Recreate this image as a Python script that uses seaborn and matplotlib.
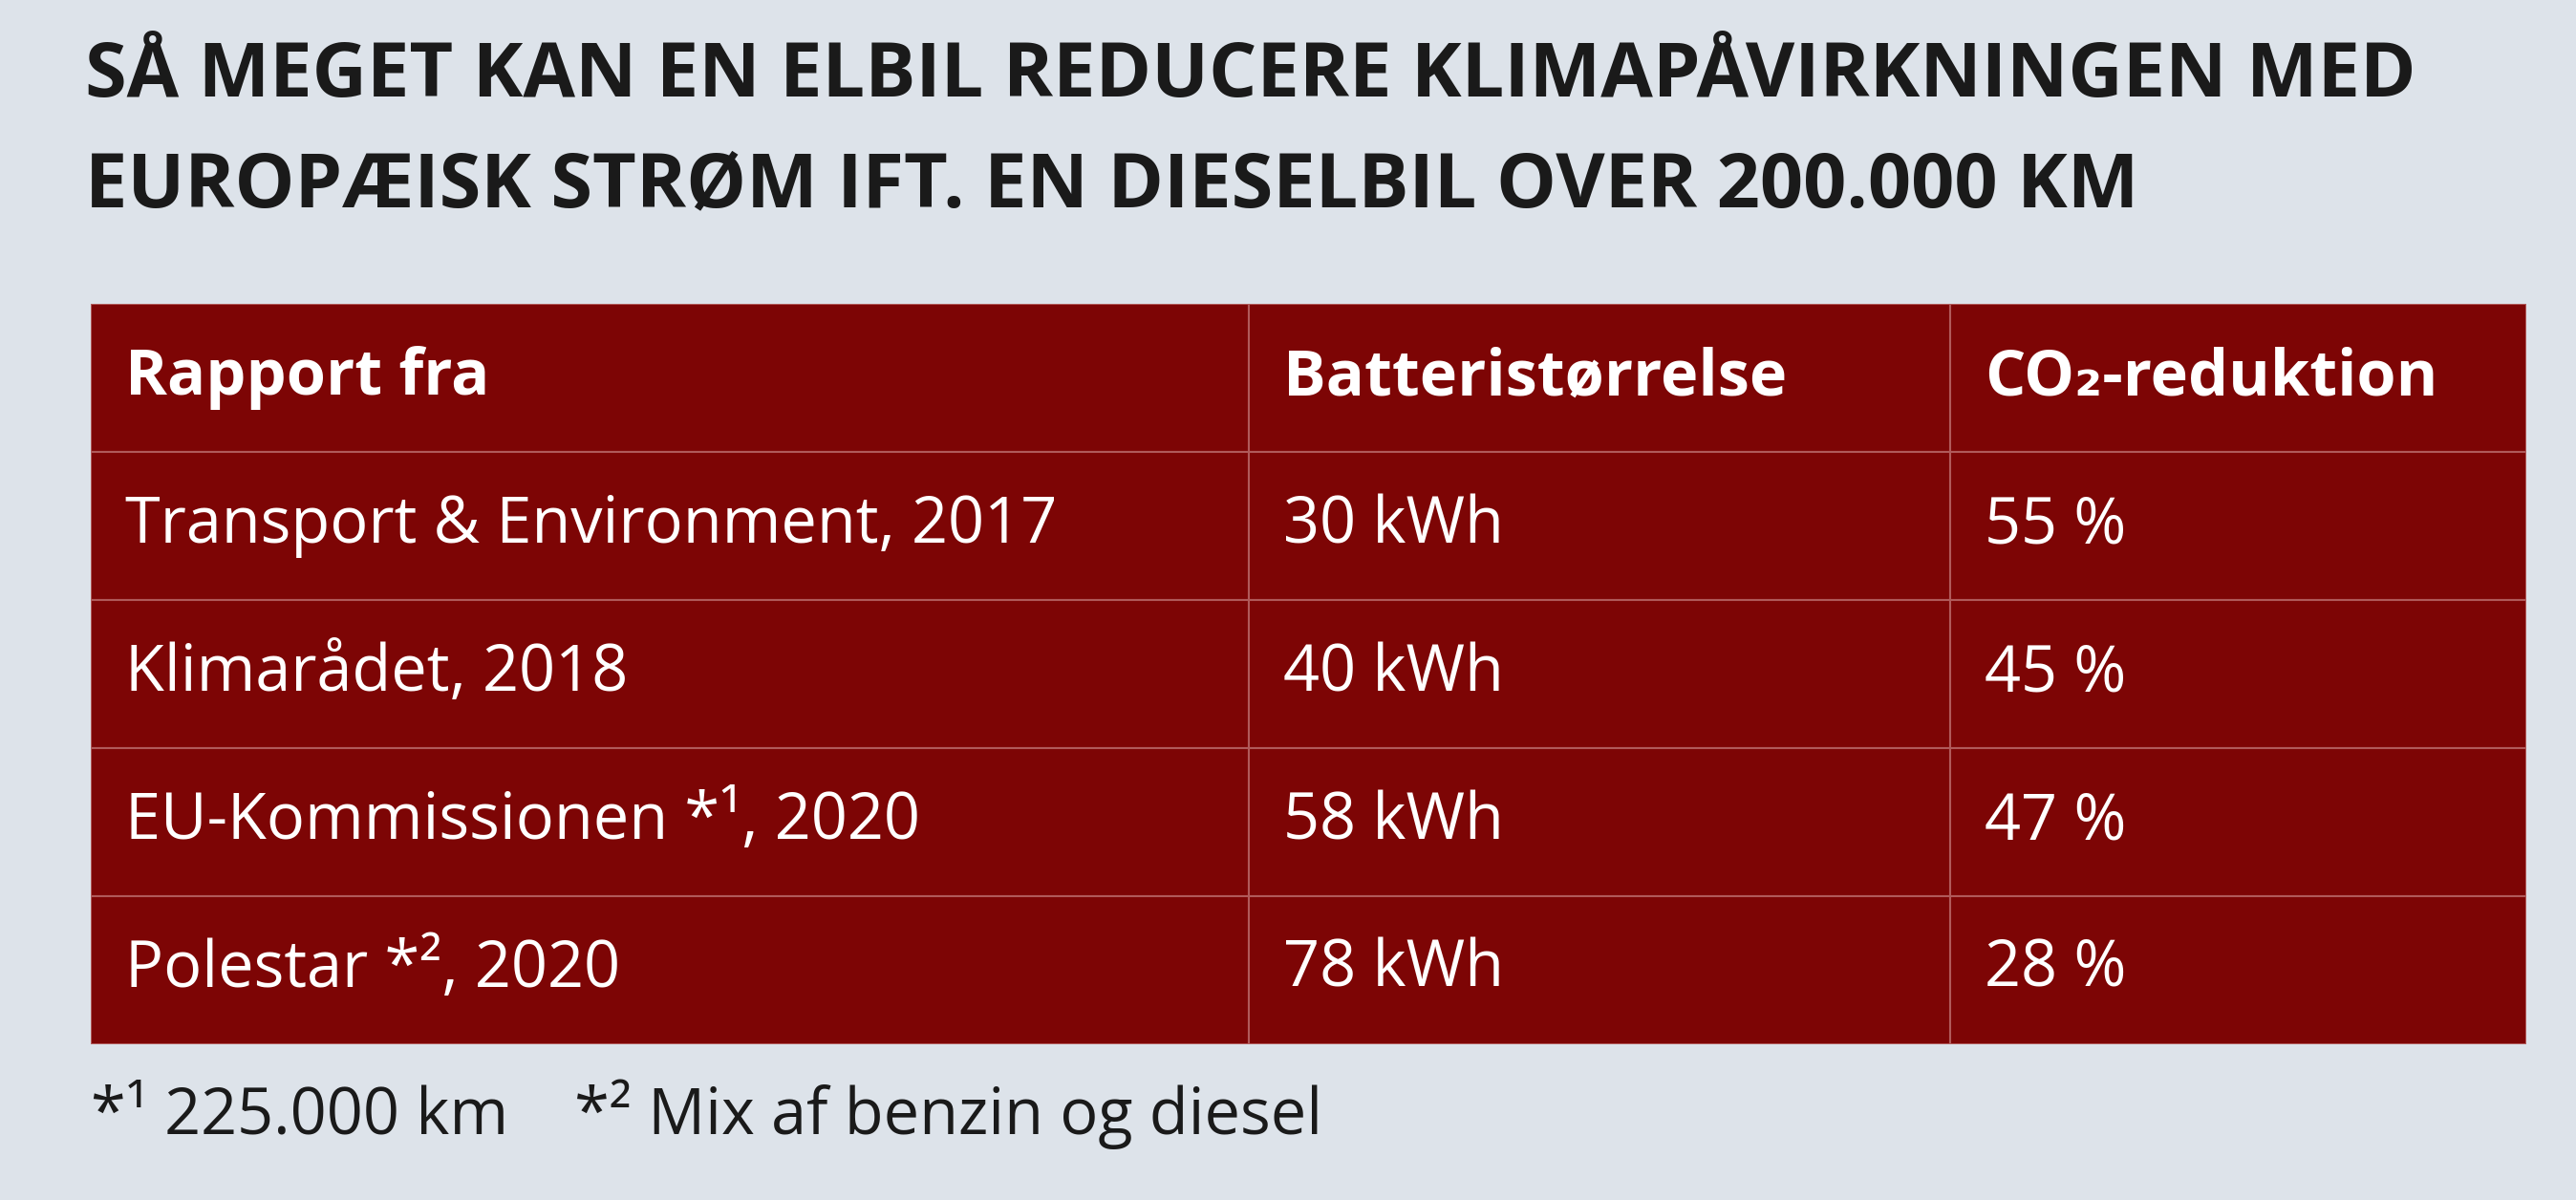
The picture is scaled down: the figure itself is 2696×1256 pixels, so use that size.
import matplotlib
matplotlib.use("Agg")
import matplotlib.pyplot as plt
import seaborn as sns

BG = "#dde3ea"
RED = "#7d0505"
LINE = "#b05a5a"
FONT = ["Open Sans", "DejaVu Sans"]

title_lines = ["SÅ MEGET KAN EN ELBIL REDUCERE KLIMAPÅVIRKNINGEN MED",
               "EUROPÆISK STRØM IFT. EN DIESELBIL OVER 200.000 KM"]
headers = ["Rapport fra", "Batteristørrelse", "CO₂-reduktion"]
reports = ["Transport & Environment, 2017", "Klimarådet, 2018",
           "EU-Kommissionen *¹, 2020", "Polestar *², 2020"]
battery = ["30 kWh", "40 kWh", "58 kWh", "78 kWh"]
reduction = ["55 %", "45 %", "47 %", "28 %"]
footnote = "*¹ 225.000 km    *² Mix af benzin og diesel"

# column edges in reference pixel units
col_edges = [55, 760, 1187, 1538]

sns.set_theme(style="white")
plt.rcParams["font.family"] = FONT

W, H = 1568, 730
fig = plt.figure(figsize=(26.96, 12.56), dpi=100)
fig.patch.set_facecolor(BG)

for i, line in enumerate(title_lines):
    fig.text(52 / W, 1 - (47 + i * 67) / H, line, fontsize=57, fontweight="bold",
             color="#1a1a1a", va="center", ha="left")

ax = fig.add_axes([55 / W, 1 - 635 / H, (1538 - 55) / W, (635 - 185) / H])
n_rows = len(reports) + 1
cells = [[headers[c]] + [reports, battery, reduction][c] for c in range(3)]
for c in range(3):
    left, right = col_edges[c], col_edges[c + 1]
    ax.barh(range(n_rows), [right - left] * n_rows, left=left, height=1.0,
            color=RED, edgecolor=LINE, linewidth=1.5)
    for r, txt in enumerate(cells[c]):
        ax.text(left + 21, r, txt, color="white", fontsize=48,
                fontweight="bold" if r == 0 else "normal", va="center", ha="left")
ax.set_xlim(col_edges[0], col_edges[-1])
ax.set_ylim(n_rows - 0.5, -0.5)
ax.axis("off")

fig.text(55 / W, 1 - 678 / H, footnote, fontsize=48, color="#1a1a1a",
         va="center", ha="left")

fig.savefig("out.png", dpi=100, facecolor=BG)
